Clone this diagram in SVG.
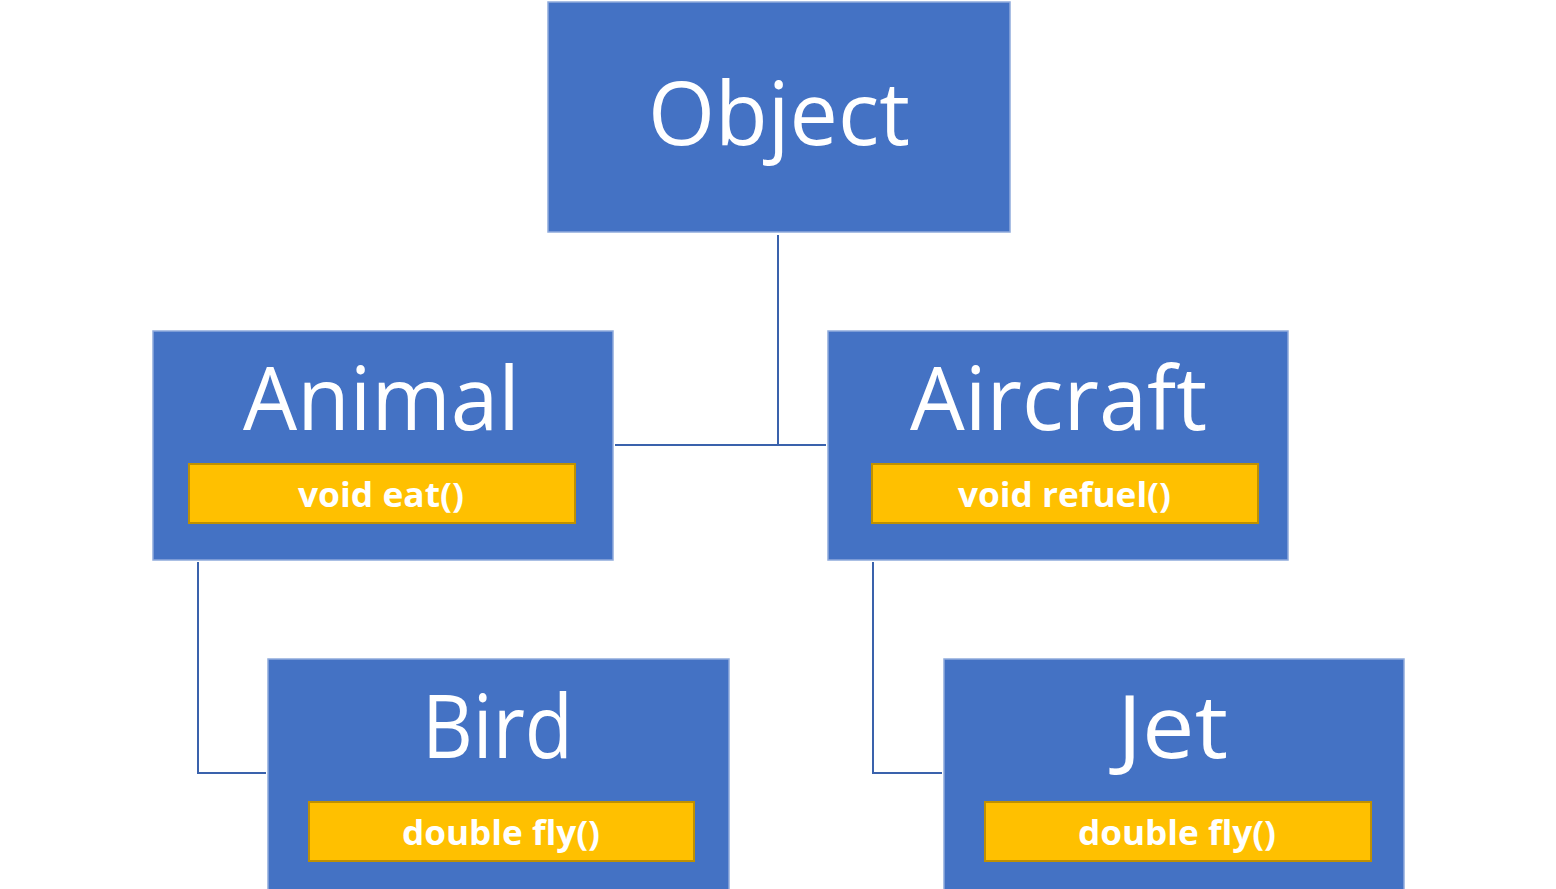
<svg xmlns="http://www.w3.org/2000/svg" width="1556" height="889" viewBox="0 0 1556 889">
<style>
.box{fill:#4472C4;stroke:#8FAADC;stroke-width:1.5}
.method{fill:#FFC000;stroke:#BF9000;stroke-width:2}
.title{fill:#fff;font-family:"Open Sans","Noto Sans",sans-serif;font-size:88px;text-anchor:middle}
.mtext{fill:#fff;font-family:"Open Sans","Noto Sans",sans-serif;font-weight:bold;font-size:34px;text-anchor:middle}
.conn{fill:none;stroke:#3A62AC;stroke-width:2}
</style>
<rect width="1556" height="889" fill="#fff"/>
<g id="connectors">
<polyline class="conn" points="778,235 778,445"/>
<polyline class="conn" points="615,445 826,445"/>
<polyline class="conn" points="198,562 198,773 266,773"/>
<polyline class="conn" points="873,562 873,773 942,773"/>
</g>
<g id="object">
<rect class="box" x="548" y="2" width="462" height="230"/>
<text class="title" x="779" y="145" textLength="262" lengthAdjust="spacingAndGlyphs">Object</text>
</g>
<g id="animal">
<rect class="box" x="153" y="331" width="460" height="229"/>
<text class="title" x="381.5" y="430" textLength="277" lengthAdjust="spacingAndGlyphs">Animal</text>
<rect class="method" x="189" y="464" width="386" height="59"/>
<text class="mtext" x="381" y="507" textLength="166" lengthAdjust="spacingAndGlyphs">void eat()</text>
</g>
<g id="aircraft">
<rect class="box" x="828" y="331" width="460" height="229"/>
<text class="title" x="1058.5" y="430" textLength="297" lengthAdjust="spacingAndGlyphs">Aircraft</text>
<rect class="method" x="872" y="464" width="386" height="59"/>
<text class="mtext" x="1064.5" y="507" textLength="213" lengthAdjust="spacingAndGlyphs">void refuel()</text>
</g>
<g id="bird">
<rect class="box" x="268" y="659" width="461" height="235"/>
<text class="title" x="497.5" y="758" textLength="151" lengthAdjust="spacingAndGlyphs">Bird</text>
<rect class="method" x="309" y="802" width="385" height="59"/>
<text class="mtext" x="501" y="845" textLength="198" lengthAdjust="spacingAndGlyphs">double fly()</text>
</g>
<g id="jet">
<rect class="box" x="944" y="659" width="460" height="235"/>
<text class="title" x="1172.5" y="758" textLength="111" lengthAdjust="spacingAndGlyphs">Jet</text>
<rect class="method" x="985" y="802" width="386" height="59"/>
<text class="mtext" x="1177" y="845" textLength="198" lengthAdjust="spacingAndGlyphs">double fly()</text>
</g>
</svg>
